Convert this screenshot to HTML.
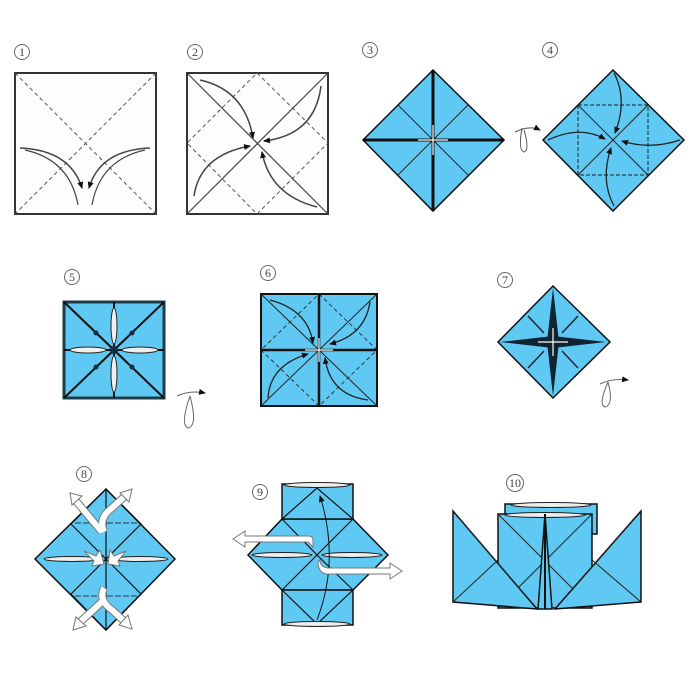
<!DOCTYPE html>
<html><head><meta charset="utf-8"><style>
html,body{margin:0;padding:0;background:#fff;width:700px;height:700px;overflow:hidden}
svg{display:block}
text{font-family:"Liberation Serif",serif;font-size:12px;fill:#444}
</style></head><body>
<svg width="700" height="700" viewBox="0 0 700 700" xmlns="http://www.w3.org/2000/svg">
<defs>
<marker id="ah" markerWidth="8" markerHeight="8" refX="6" refY="3" orient="auto" markerUnits="userSpaceOnUse"><path d="M0,0 L7,3 L0,6 Z" fill="#111"/></marker>
</defs>
<g fill="none" stroke="#666" stroke-width="1"><circle cx="22" cy="52" r="7.5"/><circle cx="195" cy="52" r="7.5"/><circle cx="370" cy="50" r="7.5"/><circle cx="550" cy="50" r="7.5"/><circle cx="72" cy="277" r="7.5"/><circle cx="268" cy="273" r="7.5"/><circle cx="505" cy="280" r="7.5"/><circle cx="84" cy="474" r="7.5"/><circle cx="260" cy="492" r="7.5"/><circle cx="515" cy="483" r="8.5"/></g>
<g text-anchor="middle"><text x="22" y="56" font-size="11">1</text><text x="195" y="56" font-size="11">2</text><text x="370" y="54" font-size="11">3</text><text x="550" y="54" font-size="11">4</text><text x="72" y="281" font-size="11">5</text><text x="268" y="277" font-size="11">6</text><text x="505" y="284" font-size="11">7</text><text x="84" y="478" font-size="11">8</text><text x="260" y="496" font-size="11">9</text><text x="515" y="487" font-size="11">10</text></g>

<!-- Panel 1 -->
<rect x="15" y="73" width="141" height="141" fill="#fdfdfd" stroke="#333" stroke-width="2"/>
<g stroke="#555" stroke-dasharray="4,3" stroke-width="1"><line x1="15" y1="73" x2="156" y2="214"/><line x1="156" y1="73" x2="15" y2="214"/></g>
<g stroke="#444" stroke-width="1.5" fill="none" marker-end="url(#ah)"><path d="M20,148 Q70,150 82,188"/><path d="M150,148 Q100,150 89,188"/></g>
<g stroke="#444" stroke-width="1.2" fill="none"><path d="M25,150 Q70,160 78,205"/><path d="M145,150 Q100,160 92,205"/></g>

<!-- Panel 2 -->
<rect x="187" y="73" width="141" height="141" fill="#fdfdfd" stroke="#333" stroke-width="2"/>
<g stroke="#444" stroke-width="1.2"><line x1="187" y1="73" x2="328" y2="214"/><line x1="328" y1="73" x2="187" y2="214"/></g>
<polygon points="257,73 328,143 257,214 187,143" fill="none" stroke="#555" stroke-dasharray="4,3"/>
<g stroke="#444" stroke-width="1.5" fill="none" marker-end="url(#ah)"><path d="M200,80 Q245,90 253,138"/><path d="M321,86 Q315,135 264,141"/><path d="M317,207 Q270,195 262,152"/><path d="M194,196 Q200,155 250,146"/></g>

<!-- Panel 3 -->
<polygon points="433,70 504,140 433,211 363,140" fill="#5fc9f4" stroke="#111" stroke-width="1.5"/>
<g stroke="#222" stroke-width="1"><line x1="398" y1="105" x2="468" y2="175"/><line x1="468" y1="105" x2="398" y2="175"/></g>
<g stroke="#111" stroke-width="3"><line x1="433" y1="70" x2="433" y2="211"/><line x1="363" y1="140" x2="504" y2="140"/></g>
<g stroke="#fff" stroke-width="1.2"><line x1="433" y1="125" x2="433" y2="155"/><line x1="418" y1="140" x2="448" y2="140"/></g>
<path d="M515,132 Q530,125 540,130" stroke="#555" fill="none" marker-end="url(#ah)"/>
<path d="M522,128 Q518,150 524,152 Q530,150 524,130" stroke="#555" fill="none"/>

<!-- Panel 4 -->
<polygon points="613,70 684,140 613,211 543,140" fill="#5fc9f4" stroke="#111" stroke-width="1.5"/>
<rect x="578" y="105" width="70" height="70" fill="none" stroke="#222" stroke-dasharray="4,2"/>
<g stroke="#222" stroke-width="1"><line x1="578" y1="105" x2="648" y2="175"/><line x1="648" y1="105" x2="578" y2="175"/></g>
<g stroke="#222" stroke-width="1.3" fill="none" marker-end="url(#ah)"><path d="M614,73 Q628,100 615,133"/><path d="M680,140 Q650,150 622,141"/><path d="M614,206 Q600,180 611,148"/><path d="M548,140 Q580,125 605,139"/></g>

<!-- Panel 5 -->
<rect x="64" y="302" width="100" height="96" fill="#5fc9f4" stroke="#1c3c4a" stroke-width="3"/>
<g stroke="#111" stroke-width="2"><line x1="64" y1="302" x2="164" y2="398"/><line x1="164" y1="302" x2="64" y2="398"/><line x1="114" y1="302" x2="114" y2="398"/><line x1="64" y1="350" x2="164" y2="350"/></g>
<g fill="#eee" stroke="#222"><ellipse cx="114" cy="326" rx="3" ry="18"/><ellipse cx="114" cy="374" rx="3" ry="18"/><ellipse cx="88" cy="350" rx="18" ry="3"/><ellipse cx="140" cy="350" rx="18" ry="3"/></g>
<g fill="#0a3040"><circle cx="114" cy="350" r="4"/><circle cx="96" cy="333" r="2.5"/><circle cx="132" cy="333" r="2.5"/><circle cx="96" cy="367" r="2.5"/><circle cx="132" cy="367" r="2.5"/></g>
<path d="M177,396 Q190,390 205,393" stroke="#666" fill="none" marker-end="url(#ah)"/>
<path d="M190,396 Q180,425 188,428 Q198,426 190,396" stroke="#666" fill="none"/>

<!-- Panel 6 -->
<rect x="261" y="294" width="116" height="112" fill="#5fc9f4" stroke="#111" stroke-width="2"/>
<g stroke="#222" stroke-width="1"><line x1="261" y1="294" x2="377" y2="406"/><line x1="377" y1="294" x2="261" y2="406"/></g>
<g stroke="#333" stroke-dasharray="4,3" fill="none"><polygon points="319,294 377,350 319,406 261,350"/></g>
<g stroke="#111" stroke-width="2.5"><line x1="319" y1="294" x2="319" y2="406"/><line x1="261" y1="350" x2="377" y2="350"/></g>
<g stroke="#fff" stroke-width="1.2"><line x1="319" y1="338" x2="319" y2="362"/><line x1="305" y1="350" x2="333" y2="350"/></g>
<g stroke="#222" stroke-width="1.3" fill="none" marker-end="url(#ah)"><path d="M270,300 Q308,310 313,343"/><path d="M370,302 Q365,335 330,344"/><path d="M368,400 Q330,395 325,358"/><path d="M268,398 Q270,365 308,354"/></g>

<!-- Panel 7 -->
<polygon points="553,286 610,342 553,398 498,342" fill="#5fc9f4" stroke="#111" stroke-width="1.5"/>
<g fill="#0e2430"><polygon points="553,288 559,342 553,396 547,342"/><polygon points="500,342 553,336 606,342 553,348"/></g>
<g stroke="#223" stroke-width="1.5"><line x1="528" y1="316" x2="544" y2="333"/><line x1="578" y1="316" x2="562" y2="333"/><line x1="528" y1="368" x2="544" y2="351"/><line x1="578" y1="368" x2="562" y2="351"/></g>
<g stroke="#fff" stroke-width="1.2"><line x1="553" y1="328" x2="553" y2="356"/><line x1="538" y1="342" x2="568" y2="342"/></g>
<path d="M600,384 Q612,378 628,380" stroke="#666" fill="none" marker-end="url(#ah)"/>
<path d="M608,382 Q598,405 605,407 Q614,405 608,382" stroke="#666" fill="none"/>

<!-- Panel 8 -->
<polygon points="106,489 175,559 106,630 35,559" fill="#5fc9f4" stroke="#111" stroke-width="1.5"/>
<g stroke="#111" stroke-width="1.2" fill="none"><polygon points="106,489 141,524 106,559 71,524"/><polygon points="106,559 141,594 106,630 71,594"/><line x1="106" y1="489" x2="106" y2="630"/></g>
<g stroke="#333" stroke-dasharray="6,2"><line x1="75" y1="523" x2="137" y2="523"/><line x1="75" y1="596" x2="137" y2="596"/></g>
<g fill="#eee" stroke="#222"><ellipse cx="72" cy="559" rx="28" ry="2.5"/><ellipse cx="140" cy="559" rx="28" ry="2.5"/></g>
<g fill="none" stroke-linecap="butt">
<g stroke="#777" stroke-width="8"><path d="M102,532 L76,501"/><path d="M104,532 Q98,518 112,508 L124,497"/><path d="M104,588 Q98,600 112,610 L124,621"/><path d="M104,600 L80,622"/></g>
<g stroke="#fff" stroke-width="6"><path d="M102,532 L76,501"/><path d="M104,532 Q98,518 112,508 L124,497"/><path d="M104,588 Q98,600 112,610 L124,621"/><path d="M104,600 L80,622"/></g>
</g>
<g fill="#fff" stroke="#777"><polygon points="70,493 82,496 72,505"/><polygon points="132,489 129,502 120,493"/><polygon points="132,629 119,625 128,615"/><polygon points="73,630 76,617 86,626"/></g>
<g fill="#fff" stroke="#777" stroke-width="1"><path d="M84,551 L96,556 L100,550 L104,564 L92,566 L94,561 Z"/><path d="M126,551 L114,556 L110,550 L108,564 L120,566 L118,561 Z"/></g>

<!-- Panel 9 -->
<polygon points="282,519 353,519 388,555 353,590 282,590 248,555" fill="#5fc9f4" stroke="#111" stroke-width="1.5"/>
<rect x="282" y="484" width="71" height="35" fill="#5fc9f4" stroke="#111" stroke-width="1.5"/>
<rect x="282" y="590" width="71" height="35" fill="#5fc9f4" stroke="#111" stroke-width="1.5"/>
<g stroke="#111" stroke-width="1.2" fill="none"><polyline points="282,519 317,488 353,519"/><polyline points="282,590 317,624 353,590"/><polyline points="282,519 317,555 282,590"/><polyline points="353,519 317,555 353,590"/></g>
<g fill="#eee" stroke="#222"><ellipse cx="317" cy="485" rx="33" ry="2.5"/><ellipse cx="317" cy="624" rx="33" ry="2.5"/><ellipse cx="282" cy="555" rx="30" ry="2.5"/><ellipse cx="352" cy="555" rx="30" ry="2.5"/></g>
<path d="M317,620 Q340,560 320,496" stroke="#111" fill="none" marker-end="url(#ah)"/>
<g fill="#fff" stroke="#777"><path d="M313,540 Q313,536 308,536 L245,536 L245,531 L233,539 L245,547 L245,542 L308,542 Q312,545 313,548 Z"/><path d="M320,560 Q320,567 328,568 L390,568 L390,563 L402,571 L390,579 L390,574 L326,574 Q318,572 318,562 Z"/></g>

<!-- Panel 10 -->
<rect x="505" y="504" width="92" height="30" fill="#5fc9f4" stroke="#111" stroke-width="1.5"/>
<ellipse cx="551" cy="505" rx="40" ry="2.5" fill="#eee" stroke="#222"/>
<rect x="498" y="514" width="94" height="94" fill="#5fc9f4" stroke="#111" stroke-width="1.5"/>
<ellipse cx="545" cy="515" rx="40" ry="2.5" fill="#eee" stroke="#222"/>
<g stroke="#222" stroke-width="1"><line x1="498" y1="514" x2="592" y2="608"/><line x1="592" y1="514" x2="498" y2="608"/></g>
<polygon points="453,511 453,602 537,609" fill="#5fc9f4" stroke="#111" stroke-width="1.5"/>
<polygon points="641,511 641,602 555,609" fill="#5fc9f4" stroke="#111" stroke-width="1.5"/>
<g stroke="#222" stroke-width="1"><line x1="453" y1="602" x2="498" y2="560"/><line x1="641" y1="602" x2="592" y2="560"/><line x1="458" y1="517" x2="533" y2="604"/><line x1="636" y1="517" x2="559" y2="604"/></g>
<polygon points="545,514 538,609 552,609" fill="#5fc9f4" stroke="#111" stroke-width="1.5"/>
<line x1="545" y1="514" x2="545" y2="609" stroke="#111" stroke-width="2"/>
</svg>
</body></html>
